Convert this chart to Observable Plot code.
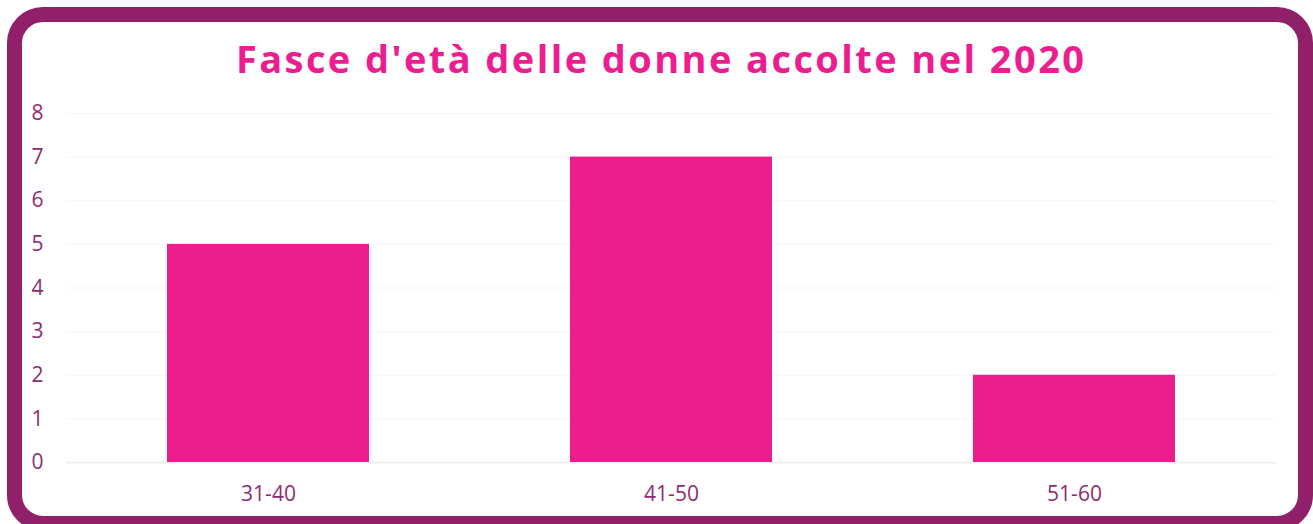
<!DOCTYPE html>
<html>
<head>
<meta charset="utf-8">
<script src="https://cdn.jsdelivr.net/npm/d3@7"></script>
<script src="https://cdn.jsdelivr.net/npm/@observablehq/plot@0.6"></script>
<style>
  html, body { margin: 0; padding: 0; background: #ffffff; overflow: hidden; }
  body { width: 1313px; height: 524px; position: relative; }
  #frame {
    position: absolute; left: 7px; top: 7px; width: 1276px; height: 494px;
    border: 15px solid #8f2069; border-radius: 36px; background: #fff;
  }
  #title {
    position: absolute; left: 7px; width: 1306px; top: 39px; text-align: center;
    font-family: "Open Sans", sans-serif; font-weight: 700; font-size: 38px;
    color: #ec1e8f; white-space: nowrap; line-height: 1;
  }
  #chart { position: absolute; left: 0; top: 90px; }
</style>
</head>
<body>
<div id="frame"></div>
<div id="title"></div>
<div id="chart"></div>
<script>
const titleText = "Fasce d'età delle donne accolte nel 2020";
const categories = ["31-40", "41-50", "51-60"];
const values = [5, 7, 2];
const yTicks = [0, 1, 2, 3, 4, 5, 6, 7, 8];

const data = categories.map((c, i) => ({fascia: c, n: values[i]}));

// title with letter spacing fitted to reference width
const title = document.getElementById("title");
title.textContent = titleText;
const span = document.createElement("span");
span.style.font = "700 38px 'Open Sans'";
span.style.whiteSpace = "nowrap";
span.style.position = "absolute";
span.style.visibility = "hidden";
span.textContent = titleText;
document.body.appendChild(span);
const w0 = span.getBoundingClientRect().width;
span.remove();
const targetW = 848;
const ls = (targetW - w0) / (titleText.length - 1);
title.style.letterSpacing = ls + "px";
title.style.textIndent = ls + "px";

const purple = "#8f2c6f";

const chart = Plot.plot({
  width: 1313,
  height: 434,
  marginLeft: 66,
  marginRight: 37,
  marginTop: 23,
  marginBottom: 62,
  style: {fontFamily: "'Open Sans', sans-serif", fontSize: "21px", color: purple, background: "transparent"},
  x: {domain: categories, paddingInner: 0.5, paddingOuter: 0.25, label: null},
  y: {domain: [0, 8], label: null},
  marks: [
    Plot.gridY(yTicks, {stroke: "#f5f5f5", strokeOpacity: 1}),
    Plot.ruleY([0], {stroke: "#efefef", strokeWidth: 2}),
    Plot.barY(data, {x: "fascia", y: "n", fill: "#ec1e8f"}),
    Plot.axisY(yTicks, {tickSize: 0, tickPadding: 23, fill: purple, fontSize: 21, label: null}),
    Plot.axisX({tickSize: 0, tickPadding: 24, fill: purple, fontSize: 21, label: null})
  ]
});
document.getElementById("chart").appendChild(chart);
</script>
</body>
</html>
